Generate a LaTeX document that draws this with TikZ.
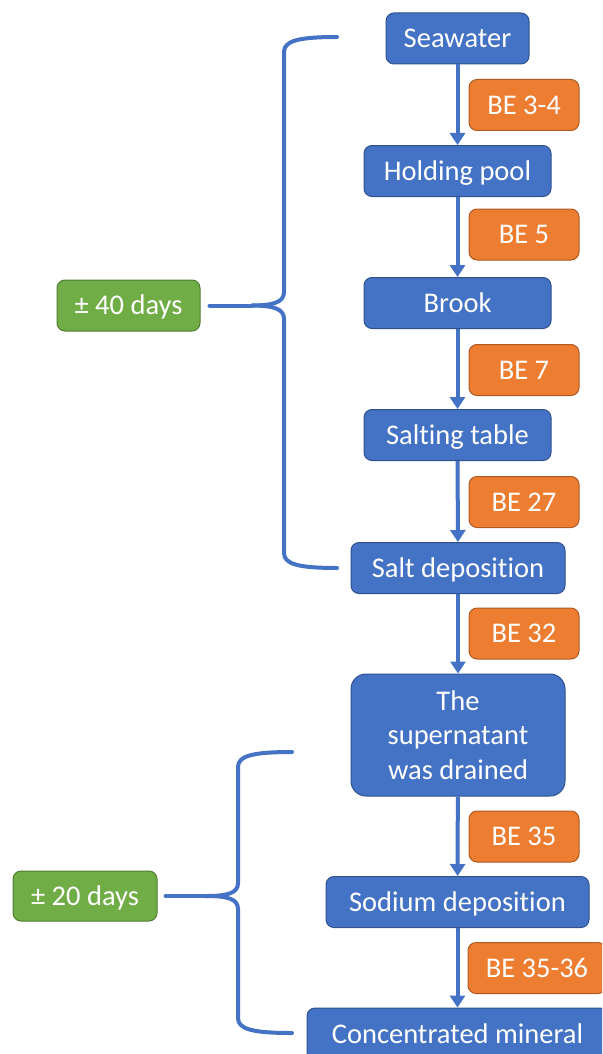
\documentclass[tikz,border=0pt]{standalone}
\usepackage{fontspec}
\setmainfont{Carlito}[Ligatures=NoCommon,RawFeature=-liga]
\usetikzlibrary{arrows.meta}
\definecolor{mblue}{HTML}{4472C4}
\definecolor{mblueD}{HTML}{2F528F}
\definecolor{morange}{HTML}{ED7D31}
\definecolor{morangeD}{HTML}{AE5A21}
\definecolor{mgreen}{HTML}{70AD47}
\definecolor{mgreenD}{HTML}{507E32}
\begin{document}
\begin{tikzpicture}[x=1pt,y=-1pt,
  base/.style={rounded corners=8pt, line width=1pt, text=white,
    font=\fontsize{28.5}{34.5}\selectfont, inner sep=0pt,
    minimum height=51pt, align=center},
  oneline/.style={text height=18pt, text depth=0pt},
  stepbox/.style={base, fill=mblue, draw=mblueD},
  refbox/.style={base, oneline, fill=morange, draw=morangeD, minimum width=110pt},
  daybox/.style={base, oneline, fill=mgreen, draw=mgreenD, minimum width=143pt},
  flow/.style={draw=mblue, line width=4pt, -{Triangle[width=15pt,length=12pt]}},
  brace/.style={draw=mblue, line width=4pt, line cap=round, line join=round}]
\useasboundingbox (0,0) rectangle (602,1054);
\clip (0,0) rectangle (602,1054);

% main flow
\node[stepbox, oneline, minimum width=143pt] (sea)  at (457.5,38.5) {Seawater};
\node[stepbox, oneline, minimum width=187pt] (hold) at (457.5,171)  {Holding pool};
\node[stepbox, oneline, minimum width=187pt] (brook) at (457.5,303) {Brook};
\node[stepbox, oneline, minimum width=187pt] (salt) at (457.5,435)  {Salting table};
\node[stepbox, oneline, minimum width=214pt] (sdep) at (458,568)    {Salt deposition};
\node[stepbox, minimum width=214pt, minimum height=122pt, rounded corners=15pt] (sup) at (458,735)
  {The\\supernatant\\was drained};
\node[stepbox, oneline, minimum width=263pt] (sod)  at (457.5,902)  {Sodium deposition};
\node[stepbox, oneline, minimum width=301pt, minimum height=53pt] (conc) at (457.5,1034.5) {Concentrated mineral};

% reference labels
\node[refbox] (r1) at (524,105)   {BE 3-4};
\node[refbox] (r2) at (524,234.5) {BE 5};
\node[refbox] (r3) at (524,370)   {BE 7};
\node[refbox] (r4) at (524,502)   {BE 27};
\node[refbox] (r5) at (524,633.5) {BE 32};
\node[refbox] (r6) at (524,836.5) {BE 35};
\node[refbox, minimum width=138pt] (r7) at (537,968) {BE 35-36};

% arrows
\draw[flow] (sea) -- (hold);
\draw[flow] (hold) -- (brook);
\draw[flow] (brook) -- (salt);
\draw[flow] (salt) -- (sdep);
\draw[flow] (sdep) -- (sup);
\draw[flow] (sup) -- (sod);
\draw[flow] (sod) -- (conc);

% day labels
\node[daybox] (g40) at (128.5,305.5) {± 40 days};
\node[daybox, minimum width=144pt, minimum height=50pt] (g20) at (85,896) {± 20 days};

% brace 40 days
\coordinate (b40t) at (337,37);
\coordinate (b40b) at (337,568);
\coordinate (b40c) at (252,305.5);
\draw[brace] ([xshift=9pt]g40.east) -- (b40c);
\draw[brace] (b40c) .. controls (274,305.5) and (284,302) .. (284,292)
  -- (284,52) .. controls (284,41) and (298,37) .. (b40t);
\draw[brace] (b40c) .. controls (274,305.5) and (284,309) .. (284,319)
  -- (284,553) .. controls (284,564) and (298,568) .. (b40b);

% brace 20 days
\coordinate (b20t) at (292,752);
\coordinate (b20b) at (292,1033);
\coordinate (b20c) at (206,896);
\draw[brace] ([xshift=8pt]g20.east) -- (b20c);
\draw[brace] (b20c) .. controls (228,896) and (238,893) .. (238,883)
  -- (238,767) .. controls (238,756) and (252,752) .. (b20t);
\draw[brace] (b20c) .. controls (228,896) and (238,899) .. (238,909)
  -- (238,1018) .. controls (238,1029) and (252,1033) .. (b20b);
\end{tikzpicture}
\end{document}
